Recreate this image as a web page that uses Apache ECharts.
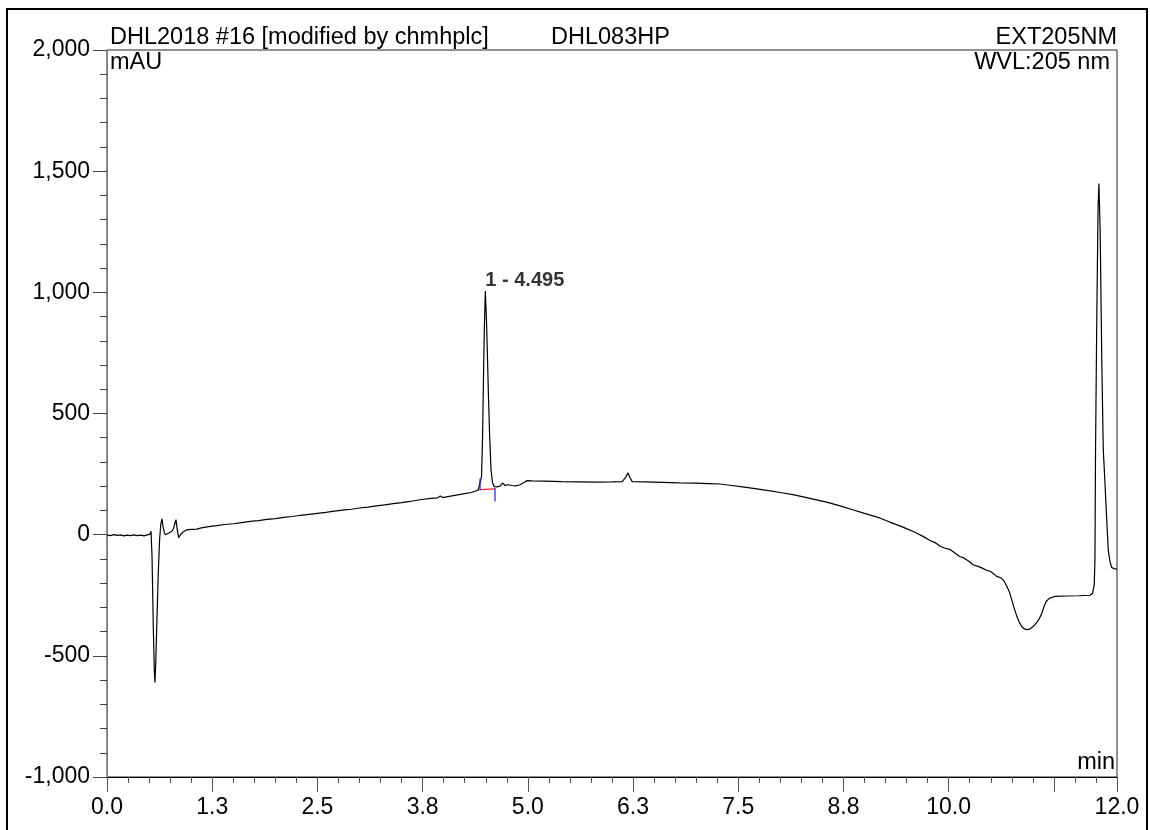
<!DOCTYPE html>
<html>
<head>
<meta charset="utf-8">
<title>DHL2018 #16 - EXT205NM</title>
<script src="https://cdn.jsdelivr.net/npm/echarts@6/dist/echarts.min.js"></script>
<style>
  html, body { margin: 0; padding: 0; background: #fff; }
  #chart { width: 1150px; height: 830px; }
</style>
</head>
<body>
<div id="chart"></div>
<script>
// Chromatogram trace: retention time (min) and detector signal (mAU)
const time = [
  0.00, 0.04, 0.08, 0.12, 0.16, 0.20, 0.24, 0.28, 0.32, 0.36, 0.40, 0.44, 0.48, 0.51,
  0.523, 0.535, 0.55, 0.562, 0.570, 0.580, 0.595, 0.61, 0.625, 0.64, 0.653, 0.665, 0.68,
  0.695, 0.71, 0.73, 0.75, 0.77, 0.79, 0.805, 0.82, 0.835, 0.851, 0.87, 0.90, 0.946,
  1.00, 1.066, 1.12, 1.21, 1.30, 1.40, 1.50, 1.60, 1.70, 1.80, 1.90, 2.00, 2.10, 2.20,
  2.30, 2.40, 2.50, 2.60, 2.70, 2.80, 2.90, 3.00, 3.10, 3.20, 3.30, 3.40, 3.50, 3.60,
  3.72, 3.85, 3.93, 3.96, 3.99, 4.05, 4.15, 4.25, 4.33, 4.38, 4.41, 4.432, 4.45, 4.462,
  4.471, 4.483, 4.495, 4.507, 4.52, 4.53, 4.545, 4.562, 4.58, 4.60, 4.63, 4.67, 4.70,
  4.73, 4.76, 4.78, 4.81, 4.85, 4.90, 4.95, 4.99, 5.05, 5.20, 5.40, 5.60, 5.80, 6.00,
  6.12, 6.16, 6.19, 6.215, 6.24, 6.40, 6.60, 6.80, 7.00, 7.15, 7.28, 7.40, 7.55, 7.70,
  7.84, 8.00, 8.15, 8.30, 8.39, 8.55, 8.70, 8.85, 9.00, 9.18, 9.30, 9.45, 9.60, 9.70,
  9.78, 9.85, 9.90, 9.95, 10.02, 10.07, 10.13, 10.18, 10.24, 10.29, 10.34, 10.40, 10.45,
  10.50, 10.54, 10.57, 10.62, 10.66, 10.69, 10.72, 10.75, 10.78, 10.81, 10.84, 10.87,
  10.90, 10.93, 10.96, 11.00, 11.03, 11.07, 11.10, 11.14, 11.16, 11.20, 11.26, 11.40,
  11.55, 11.68, 11.71, 11.73, 11.738, 11.745, 11.76, 11.775, 11.785, 11.80, 11.82,
  11.837, 11.857, 11.875, 11.896, 11.916, 11.936, 11.96, 12.00
];
const signal = [
  -2, -4, 0, -3, -1, -5, -2, -4, -1, -4, -2, -5, -1, 2,
  14, -90, -380, -560, -610, -520, -330, -150, -20, 45, 65, 35, 10,
  0, 3, 6, 10, 14, 25, 45, 62, 20, -12, -2, 10, 20,
  22, 23, 28, 33, 37, 42, 45, 50, 55, 58, 63, 66, 71, 75,
  80, 84, 88, 92, 97, 101, 105, 110, 114, 119, 123, 128, 132, 137,
  144, 150, 152, 160, 153, 157, 163, 169, 174, 180, 184, 190, 240, 400,
  600, 850, 1005, 900, 740, 600, 420, 270, 215, 198, 197, 200, 213,
  203, 206, 212, 203, 201, 205, 214, 223, 222, 221, 219, 218, 217, 218,
  219, 235, 255, 235, 219, 218, 216, 214, 213, 211, 209, 204, 197, 190,
  183, 174, 165, 154, 147, 134, 120, 104, 88, 69, 52, 32, 10, -8,
  -24, -35, -48, -55, -62, -75, -90, -96, -110, -124, -130, -138, -147,
  -152, -163, -172, -178, -192, -213, -235, -270, -305, -337, -362, -380,
  -389, -392, -390, -380, -370, -351, -330, -290, -275, -262, -255, -253,
  -252, -250, -242, -205, -100, 351, 900, 1350, 1449, 1250, 700,
  351, 214, 80, -62, -110, -135, -140, -142
];

// Identified peak (number, retention time, height)
const peakNames = ['1'];
const peakTimes = [4.495];
const peakHeights = [1005];

// Integration baseline and peak delimiters for peak 1
const baselineTimes = [4.432, 4.61];
const baselineValues = [186, 189];
const delimiterTop = [231, 193];
const delimiterBottom = [183, 137];

// Axis tick labels left blank
const xHiddenLabels = [11.25];

const FONT = '"Liberation Sans", Arial, sans-serif';
const HEADER_FONT = '23.5px ' + FONT;
const trace = time.map((t, i) => [t, signal[i]]);

const chart = echarts.init(document.getElementById('chart'), null, { renderer: 'canvas' });

const xBase = {
  type: 'value', min: 0, max: 12, gridIndex: 0, position: 'bottom',
  splitLine: { show: false }
};

chart.setOption({
  animation: false,
  backgroundColor: '#fff',
  grid: {
    left: 107, top: 50, right: 33, bottom: 53,
    show: true, borderColor: '#222', borderWidth: 1, backgroundColor: 'transparent'
  },
  xAxis: [
    Object.assign({}, xBase, {
      interval: 1.25,
      axisLine: { show: true, onZero: false, lineStyle: { color: '#000', width: 1 } },
      axisTick: { show: true, length: 15, lineStyle: { color: '#555' } },
      axisLabel: {
        show: true, margin: 19, color: '#000', fontFamily: FONT, fontSize: 23,
        showMinLabel: true, showMaxLabel: true, hideOverlap: false,
        formatter: v => (xHiddenLabels.some(h => Math.abs(h - v) < 1e-6) ? '' : v.toFixed(1))
      }
    }),
    Object.assign({}, xBase, {
      interval: 0.25,
      axisLine: { show: false, onZero: false },
      axisTick: { show: true, length: 6, lineStyle: { color: '#555' } },
      axisLabel: { show: false }
    })
  ],
  yAxis: {
    type: 'value', min: -1000, max: 2000, interval: 500,
    axisLine: { show: true, onZero: false, lineStyle: { color: '#808080', width: 1 } },
    axisTick: { show: true, length: 14, lineStyle: { color: '#444' } },
    minorTick: { show: true, splitNumber: 5, length: 7, lineStyle: { color: '#444' } },
    splitLine: { show: false },
    axisLabel: {
      margin: 17, color: '#000', fontFamily: FONT, fontSize: 23,
      formatter: v => v.toLocaleString('en-US')
    }
  },
  series: [
    {
      type: 'line', name: 'EXT205NM', data: trace,
      xAxisIndex: 0, yAxisIndex: 0,
      showSymbol: false, symbol: 'none', smooth: false,
      lineStyle: { color: '#000', width: 1.2 },
      z: 3
    },
    {
      type: 'line', name: 'baseline',
      data: baselineTimes.map((t, i) => [t, baselineValues[i]]),
      symbol: 'none', lineStyle: { color: '#ff2020', width: 1.2 }, z: 4
    },
    {
      type: 'line', name: 'delimiters',
      data: [
        [baselineTimes[0], delimiterTop[0]], [baselineTimes[0], delimiterBottom[0]],
        ['-', '-'],
        [baselineTimes[1], delimiterTop[1]], [baselineTimes[1], delimiterBottom[1]]
      ],
      connectNulls: false,
      symbol: 'none', lineStyle: { color: '#1a1aff', width: 1.2 }, z: 4
    },
    {
      type: 'scatter', name: 'peaks',
      data: peakTimes.map((t, i) => ({ value: [t, peakHeights[i]], name: peakNames[i] })),
      symbolSize: 0.1, itemStyle: { color: 'transparent' },
      label: {
        show: true, position: 'top', distance: 1, align: 'left',
        fontFamily: FONT, fontSize: 20, fontWeight: 'bold', color: '#000',
        formatter: p => p.name + ' - ' + p.value[0].toFixed(3)
      },
      z: 5
    }
  ],
  graphic: [
    {
      type: 'rect', silent: true, z: 0,
      shape: { x: 7, y: 9, width: 1140, height: 840 },
      style: { fill: 'none', stroke: '#000', lineWidth: 2 }
    },
    {
      type: 'text', x: 110, y: 38, silent: true,
      style: { text: 'DHL2018 #16 [modified by chmhplc]', font: HEADER_FONT, fill: '#000', align: 'left', verticalAlign: 'middle' }
    },
    {
      type: 'text', x: 551, y: 38, silent: true,
      style: { text: 'DHL083HP', font: HEADER_FONT, fill: '#000', align: 'left', verticalAlign: 'middle' }
    },
    {
      type: 'text', x: 1117, y: 38, silent: true,
      style: { text: 'EXT205NM', font: HEADER_FONT, fill: '#000', align: 'right', verticalAlign: 'middle' }
    },
    {
      type: 'text', x: 110, y: 63, silent: true,
      style: { text: 'mAU', font: HEADER_FONT, fill: '#000', align: 'left', verticalAlign: 'middle' }
    },
    {
      type: 'text', x: 1110, y: 63, silent: true,
      style: { text: 'WVL:205 nm', font: HEADER_FONT, fill: '#000', align: 'right', verticalAlign: 'middle' }
    },
    {
      type: 'text', x: 1115, y: 763, silent: true,
      style: { text: 'min', font: HEADER_FONT, fill: '#000', align: 'right', verticalAlign: 'middle' }
    }
  ]
});
</script>
</body>
</html>
